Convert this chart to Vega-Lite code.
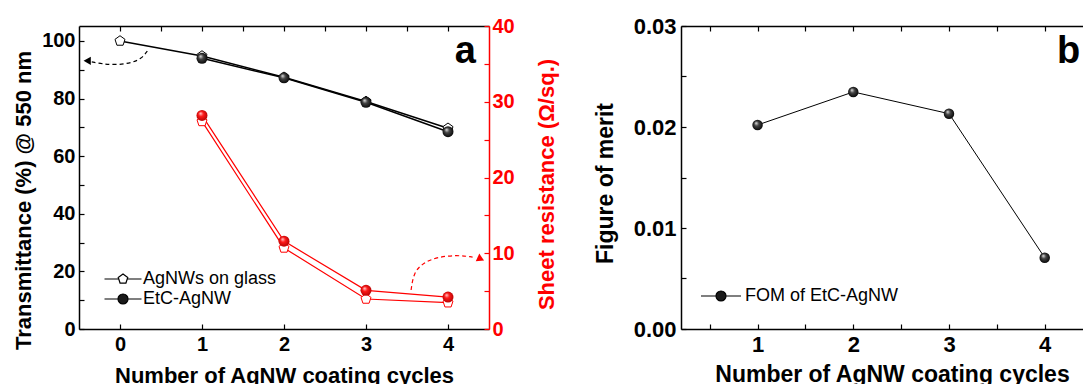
{
  "$schema": "https://vega.github.io/schema/vega-lite/v6.json",
  "padding": {"left": 12, "top": 15, "right": 0, "bottom": 0},
  "background": "white",
  "spacing": 36,
  "config": {
    "font": "Liberation Sans",
    "view": {"stroke": null},
    "axis": {
      "grid": false,
      "labelFont": "Liberation Sans",
      "labelFontSize": 20,
      "labelFontWeight": "bold",
      "labelColor": "black",
      "labelOverlap": false,
      "titleFont": "Liberation Sans",
      "titleFontSize": 22,
      "titleFontWeight": "bold",
      "titleColor": "black",
      "domainColor": "black",
      "domainWidth": 1.5,
      "tickColor": "black",
      "tickWidth": 1.2,
      "tickSize": -5,
      "tickCount": 40
    },
    "legend": {"labelFont": "Liberation Sans"}
  },
  "datasets": {
    "trans": [
      {"cycles": 0, "series": "AgNWs on glass", "T": 100},
      {"cycles": 1, "series": "AgNWs on glass", "T": 94.8},
      {"cycles": 2, "series": "AgNWs on glass", "T": 87.4},
      {"cycles": 3, "series": "AgNWs on glass", "T": 79.0},
      {"cycles": 4, "series": "AgNWs on glass", "T": 69.7},
      {"cycles": 1, "series": "EtC-AgNW", "T": 94.0},
      {"cycles": 2, "series": "EtC-AgNW", "T": 87.2},
      {"cycles": 3, "series": "EtC-AgNW", "T": 78.7},
      {"cycles": 4, "series": "EtC-AgNW", "T": 68.5}
    ],
    "res": [
      {"cycles": 1, "series": "AgNWs on glass", "R": 27.4},
      {"cycles": 2, "series": "AgNWs on glass", "R": 10.7},
      {"cycles": 3, "series": "AgNWs on glass", "R": 3.96},
      {"cycles": 4, "series": "AgNWs on glass", "R": 3.47},
      {"cycles": 1, "series": "EtC-AgNW", "R": 28.2},
      {"cycles": 2, "series": "EtC-AgNW", "R": 11.6},
      {"cycles": 3, "series": "EtC-AgNW", "R": 5.1},
      {"cycles": 4, "series": "EtC-AgNW", "R": 4.22}
    ],
    "arrowA": [
      {"cycles": 0.333, "T": 96.5, "i": 0},
      {"cycles": 0.272, "T": 94.1, "i": 1},
      {"cycles": 0.15, "T": 92.4, "i": 2},
      {"cycles": -0.033, "T": 91.7, "i": 3},
      {"cycles": -0.216, "T": 92.0, "i": 4},
      {"cycles": -0.35, "T": 92.8, "i": 5}
    ],
    "arrowHeadA": [{"cycles": -0.4, "T": 93.1}],
    "arrowR": [
      {"cycles": 3.55, "R": 5.15, "i": 0},
      {"cycles": 3.58, "R": 7.39, "i": 1},
      {"cycles": 3.69, "R": 8.71, "i": 2},
      {"cycles": 3.87, "R": 9.5, "i": 3},
      {"cycles": 4.11, "R": 9.77, "i": 4},
      {"cycles": 4.3, "R": 9.5, "i": 5}
    ],
    "arrowHeadR": [{"cycles": 4.4, "R": 9.25}],
    "labelA": [{"cycles": 4.21, "T": 92.4, "text": "a"}],
    "labelB": [{"cycles": 4.25, "FOM": 0.02634, "text": "b"}],
    "fom": [
      {"cycles": 1, "FOM": 0.0202, "series": "FOM of EtC-AgNW"},
      {"cycles": 2, "FOM": 0.02347, "series": "FOM of EtC-AgNW"},
      {"cycles": 3, "FOM": 0.02132, "series": "FOM of EtC-AgNW"},
      {"cycles": 4, "FOM": 0.00706, "series": "FOM of EtC-AgNW"}
    ]
  },
  "resolve": {"scale": {"shape": "independent", "fill": "independent"}},
  "hconcat": [
    {
      "width": 410,
      "height": 303,
      "resolve": {"scale": {"y": "independent"}, "axis": {"x": "independent"}},
      "layer": [
        {
          "layer": [
            {
              "data": {"name": "trans"},
              "mark": {"type": "line", "color": "black", "strokeWidth": 1.5},
              "encoding": {
                "x": {"field": "cycles", "type": "quantitative", "scale": {"domain": [-0.5, 4.5], "nice": false, "zero": false},
                  "axis": {"orient": "bottom", "title": "Number of AgNW coating cycles", "values": [0, 0.5, 1, 1.5, 2, 2.5, 3, 3.5, 4], "format": "d", "tickCount": 40,
                    "labelExpr": "datum.value % 1 === 0 ? datum.label : ''", "labelOverlap": false, "labelFlush": false,
                    "labelPadding": 10, "titlePadding": 11}},
                "y": {"field": "T", "type": "quantitative", "scale": {"domain": [0, 105.2], "nice": false},
                  "axis": {"orient": "left", "title": "Transmittance (%) @ 550 nm", "values": [0, 10, 20, 30, 40, 50, 60, 70, 80, 90, 100], "tickCount": 40,
                    "labelExpr": "datum.value % 20 === 0 ? datum.label : ''", "labelOverlap": false,
                    "labelPadding": 9, "titlePadding": 6, "titleY": 174}},
                "detail": {"field": "series"}
              }
            },
            {
              "data": {"name": "trans"},
              "transform": [{"filter": "datum.series === 'AgNWs on glass'"}],
              "mark": {"type": "point", "shape": "M0,-1L0.951,-0.309L0.588,0.809L-0.588,0.809L-0.951,-0.309Z", "filled": true, "fill": "white", "stroke": "black", "strokeWidth": 1, "size": 110, "opacity": 1},
              "encoding": {
                "x": {"field": "cycles", "type": "quantitative"},
                "y": {"field": "T", "type": "quantitative"}
              }
            },
            {
              "data": {"name": "trans"},
              "transform": [{"filter": "datum.series === 'EtC-AgNW'"}],
              "mark": {"type": "point", "shape": "circle", "filled": true, "size": 121, "opacity": 1, "strokeWidth": 0,
                "fill": {"gradient": "radial", "x1": 0.35, "y1": 0.3, "r1": 0, "x2": 0.5, "y2": 0.5, "r2": 0.55,
                  "stops": [{"offset": 0, "color": "#f0f0f0"}, {"offset": 0.4, "color": "#444444"}, {"offset": 1, "color": "#000000"}]}},
              "encoding": {
                "x": {"field": "cycles", "type": "quantitative"},
                "y": {"field": "T", "type": "quantitative"}
              }
            },
            {
              "data": {"name": "trans"},
              "mark": {"type": "point", "filled": true, "opacity": 0, "stroke": "black", "size": 100},
              "encoding": {
                "x": {"field": "cycles", "type": "quantitative"},
                "y": {"field": "T", "type": "quantitative"},
                "shape": {"field": "series", "type": "nominal",
                  "scale": {"domain": ["AgNWs on glass", "EtC-AgNW"], "range": ["M-3.7,0L-0.85,0M0.85,0L3.7,0M0,-1L0.951,-0.309L0.588,0.809L-0.588,0.809L-0.951,-0.309Z", "M-3.7,0L-1,0M1,0L3.7,0M1,0A1,1,0,1,1,-1,0A1,1,0,1,1,1,0Z"]},
                  "legend": {"title": null, "orient": "none", "legendX": 35, "legendY": 244, "padding": 0, "labelFontSize": 18, "labelFontWeight": "normal", "labelColor": "black", "symbolSize": 100, "symbolStrokeColor": "black", "symbolStrokeWidth": 1.2, "symbolOpacity": 1, "labelOffset": 11, "rowPadding": 2,
                    "encode": {"symbols": {"update": {"stroke": {"value": "black"}, "strokeWidth": {"value": 1.2}, "opacity": {"value": 1}}}}}},
                "fill": {"field": "series", "type": "nominal",
                  "scale": {"domain": ["AgNWs on glass", "EtC-AgNW"], "range": ["white", "#1a1a1a"]},
                  "legend": {"title": null, "orient": "none", "legendX": 35, "legendY": 244, "padding": 0, "labelFontSize": 18, "labelFontWeight": "normal", "labelColor": "black", "symbolSize": 100, "symbolStrokeColor": "black", "symbolStrokeWidth": 1.2, "symbolOpacity": 1, "labelOffset": 11, "rowPadding": 2,
                    "encode": {"symbols": {"update": {"stroke": {"value": "black"}, "strokeWidth": {"value": 1.2}, "opacity": {"value": 1}}}}}}
              }
            },
            {
              "data": {"name": "arrowA"},
              "mark": {"type": "line", "color": "black", "strokeWidth": 1.2, "strokeDash": [4, 3], "interpolate": "basis"},
              "encoding": {
                "x": {"field": "cycles", "type": "quantitative"},
                "y": {"field": "T", "type": "quantitative"},
                "order": {"field": "i", "type": "quantitative"}
              }
            },
            {
              "data": {"name": "arrowHeadA"},
              "mark": {"type": "point", "shape": "triangle-left", "filled": true, "color": "black", "size": 70, "opacity": 1},
              "encoding": {
                "x": {"field": "cycles", "type": "quantitative"},
                "y": {"field": "T", "type": "quantitative"}
              }
            },
            {
              "data": {"name": "labelA"},
              "mark": {"type": "text", "font": "Liberation Sans", "fontSize": 38, "fontWeight": "bold", "color": "black", "align": "center", "baseline": "alphabetic"},
              "encoding": {
                "x": {"field": "cycles", "type": "quantitative"},
                "y": {"field": "T", "type": "quantitative"},
                "text": {"field": "text"}
              }
            }
          ]
        },
        {
          "layer": [
            {
              "data": {"name": "res"},
              "mark": {"type": "line", "color": "#ff0000", "strokeWidth": 1.2},
              "encoding": {
                "x": {"field": "cycles", "type": "quantitative",
                  "axis": {"orient": "top", "title": null, "labels": false, "values": [0, 0.5, 1, 1.5, 2, 2.5, 3, 3.5, 4], "tickCount": 40}},
                "y": {"field": "R", "type": "quantitative", "scale": {"domain": [0, 40], "nice": false},
                  "axis": {"orient": "right", "title": "Sheet resistance (Ω/sq.)", "values": [0, 5, 10, 15, 20, 25, 30, 35, 40], "tickCount": 40,
                    "labelExpr": "datum.value % 10 === 0 ? datum.label : ''", "labelOverlap": false,
                    "labelPadding": 8, "titlePadding": 22, "titleAngle": 270, "titleBaseline": "top", "titleY": 158,
                    "domainColor": "#ff0000", "tickColor": "#ff0000", "labelColor": "#ff0000", "titleColor": "#ff0000"}},
                "detail": {"field": "series"}
              }
            },
            {
              "data": {"name": "res"},
              "transform": [{"filter": "datum.series === 'AgNWs on glass'"}],
              "mark": {"type": "point", "shape": "M0,-1L0.951,-0.309L0.588,0.809L-0.588,0.809L-0.951,-0.309Z", "filled": true, "fill": "white", "stroke": "#ff0000", "strokeWidth": 1, "size": 110, "opacity": 1},
              "encoding": {
                "x": {"field": "cycles", "type": "quantitative"},
                "y": {"field": "R", "type": "quantitative"}
              }
            },
            {
              "data": {"name": "res"},
              "transform": [{"filter": "datum.series === 'EtC-AgNW'"}],
              "mark": {"type": "point", "shape": "circle", "filled": true, "size": 121, "opacity": 1, "strokeWidth": 0,
                "fill": {"gradient": "radial", "x1": 0.35, "y1": 0.3, "r1": 0, "x2": 0.5, "y2": 0.5, "r2": 0.55,
                  "stops": [{"offset": 0, "color": "#ffe0e0"}, {"offset": 0.4, "color": "#ff1a1a"}, {"offset": 1, "color": "#b00000"}]}},
              "encoding": {
                "x": {"field": "cycles", "type": "quantitative"},
                "y": {"field": "R", "type": "quantitative"}
              }
            },
            {
              "data": {"name": "arrowR"},
              "mark": {"type": "line", "color": "#ff0000", "strokeWidth": 1.2, "strokeDash": [4, 3], "interpolate": "basis"},
              "encoding": {
                "x": {"field": "cycles", "type": "quantitative"},
                "y": {"field": "R", "type": "quantitative"},
                "order": {"field": "i", "type": "quantitative"}
              }
            },
            {
              "data": {"name": "arrowHeadR"},
              "mark": {"type": "point", "shape": "triangle-right", "angle": 25, "filled": true, "color": "#ff0000", "size": 70, "opacity": 1},
              "encoding": {
                "x": {"field": "cycles", "type": "quantitative"},
                "y": {"field": "R", "type": "quantitative"}
              }
            }
          ]
        }
      ]
    },
    {
      "width": 402,
      "height": 303,
      "resolve": {"axis": {"x": "independent"}},
      "layer": [
        {
          "layer": [
            {
              "data": {"name": "fom"},
              "mark": {"type": "line", "color": "black", "strokeWidth": 1},
              "encoding": {
                "x": {"field": "cycles", "type": "quantitative", "scale": {"domain": [0.2, 4.4], "nice": false, "zero": false},
                  "axis": {"orient": "bottom", "title": "Number of AgNW coating cycles", "values": [1, 2, 3, 4], "format": "d", "tickCount": 40,
                    "labelOverlap": false, "labelFlush": false,
                    "labelFontSize": 22, "titleFontSize": 23, "titleX": 211,
                    "labelPadding": 10, "titlePadding": 8}},
                "y": {"field": "FOM", "type": "quantitative", "scale": {"domain": [0, 0.03], "nice": false},
                  "axis": {"orient": "left", "title": "Figure of merit", "values": [0, 0.005, 0.01, 0.015, 0.02, 0.025, 0.03], "format": ".2f", "tickCount": 40,
                    "labelExpr": "round(datum.value * 1000) % 10 === 0 ? datum.label : ''", "labelOverlap": false,
                    "labelFontSize": 22, "titleFontSize": 23,
                    "labelPadding": 10, "titlePadding": 16, "titleY": 157}}
              }
            },
            {
              "data": {"name": "fom"},
              "mark": {"type": "point", "shape": "circle", "filled": true, "size": 110, "opacity": 1, "strokeWidth": 0,
                "fill": {"gradient": "radial", "x1": 0.35, "y1": 0.3, "r1": 0, "x2": 0.5, "y2": 0.5, "r2": 0.55,
                  "stops": [{"offset": 0, "color": "#f0f0f0"}, {"offset": 0.4, "color": "#444444"}, {"offset": 1, "color": "#000000"}]}},
              "encoding": {
                "x": {"field": "cycles", "type": "quantitative"},
                "y": {"field": "FOM", "type": "quantitative"}
              }
            },
            {
              "data": {"name": "labelB"},
              "mark": {"type": "text", "font": "Liberation Sans", "fontSize": 38, "fontWeight": "bold", "color": "black", "align": "center", "baseline": "alphabetic"},
              "encoding": {
                "x": {"field": "cycles", "type": "quantitative"},
                "y": {"field": "FOM", "type": "quantitative"},
                "text": {"field": "text"}
              }
            }
          ]
        },
        {
          "data": {"name": "fom"},
          "mark": {"type": "point", "filled": true, "opacity": 0, "stroke": "black", "size": 100},
          "encoding": {
            "x": {"field": "cycles", "type": "quantitative",
              "axis": {"orient": "top", "title": null, "labels": false, "values": [0.5, 1, 1.5, 2, 2.5, 3, 3.5, 4], "tickCount": 40}},
            "y": {"field": "FOM", "type": "quantitative"},
            "shape": {"field": "series", "type": "nominal",
              "scale": {"domain": ["FOM of EtC-AgNW"], "range": ["M-4,0L-1,0M1,0L4,0M1,0A1,1,0,1,1,-1,0A1,1,0,1,1,1,0Z"]},
              "legend": {"title": null, "orient": "none", "legendX": 31, "legendY": 261, "padding": 0, "labelFontSize": 18, "labelFontWeight": "normal", "labelColor": "black", "symbolSize": 100, "symbolStrokeColor": "black", "symbolStrokeWidth": 1.2, "symbolOpacity": 1, "labelOffset": 15,
                "encode": {"symbols": {"update": {"stroke": {"value": "black"}, "strokeWidth": {"value": 1.2}, "opacity": {"value": 1}}}}}},
            "fill": {"field": "series", "type": "nominal",
              "scale": {"domain": ["FOM of EtC-AgNW"], "range": ["#1a1a1a"]},
              "legend": {"title": null, "orient": "none", "legendX": 31, "legendY": 261, "padding": 0, "labelFontSize": 18, "labelFontWeight": "normal", "labelColor": "black", "symbolSize": 100, "symbolStrokeColor": "black", "symbolStrokeWidth": 1.2, "symbolOpacity": 1, "labelOffset": 15,
                "encode": {"symbols": {"update": {"stroke": {"value": "black"}, "strokeWidth": {"value": 1.2}, "opacity": {"value": 1}}}}}}
          }
        },
        {
          "data": {"name": "fom"},
          "mark": {"type": "point", "opacity": 0},
          "encoding": {
            "x": {"field": "cycles", "type": "quantitative",
              "axis": {"orient": "bottom", "title": null, "labels": false, "domain": false, "values": [0.5, 1.5, 2.5, 3.5], "tickCount": 40}},
            "y": {"field": "FOM", "type": "quantitative"}
          }
        }
      ]
    }
  ]
}
